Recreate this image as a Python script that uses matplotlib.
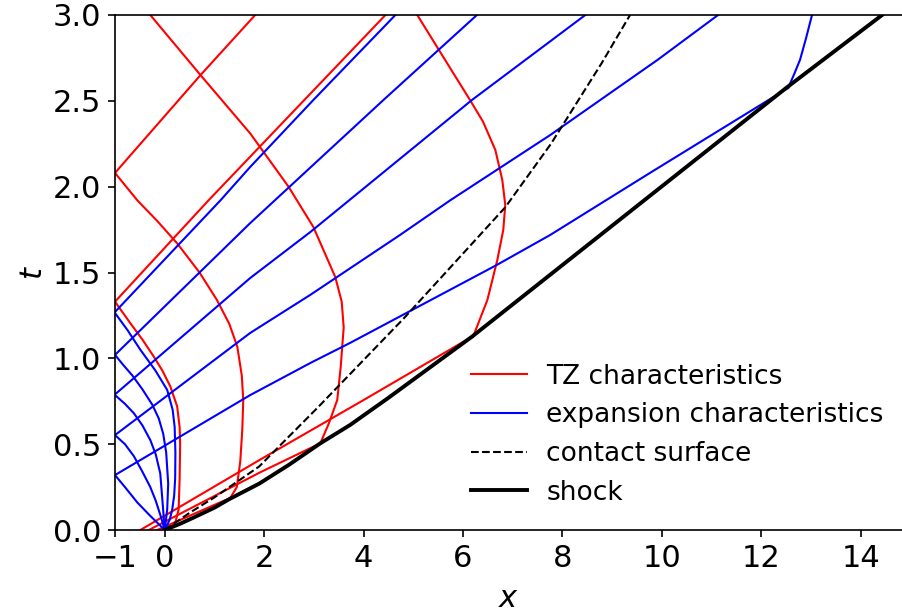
import numpy as np
import matplotlib
matplotlib.use("Agg")
import matplotlib.pyplot as plt

# ---------------- data (x, t) ----------------
# shock and contact surface
shock_x = [0.0, 0.3, 0.6, 1.0, 1.3, 1.9, 2.5, 3.13, 3.73, 4.5, 6.17, 12.5, 14.43]
shock_t = [0.0, 0.035, 0.075, 0.13, 0.18, 0.27, 0.38, 0.505, 0.612, 0.77, 1.124, 2.575, 3.0]
contact_x = [0.0, 0.5, 1.0, 1.9, 3.1, 4.8, 6.85, 7.77, 8.79, 9.36]
contact_t = [0.0, 0.1, 0.19, 0.37, 0.72, 1.23, 1.88, 2.25, 2.72, 3.0]

# expansion fan (origin -> wall x=-1)
fan_a_x = [0.0, -0.3, -0.55, -0.8, -1.0]
fan_a_t = [0.0, 0.085, 0.16, 0.25, 0.32]
fan_b_x = [0.0, -0.08, -0.18, -0.29, -0.45, -0.62, -0.8, -1.0]
fan_b_t = [0.0, 0.08, 0.17, 0.25, 0.34, 0.43, 0.5, 0.553]
fan_c_x = [0.0, -0.04, -0.09, -0.18, -0.29, -0.45, -0.62, -0.8, -1.0]
fan_c_t = [0.0, 0.15, 0.33, 0.44, 0.524, 0.61, 0.68, 0.735, 0.786]
fan_d_x = [0.0, 0.05, 0.07, 0.03, -0.03, -0.12, -0.25, -0.45, -0.65, -0.83, -1.0]
fan_d_t = [0.0, 0.12, 0.27, 0.45, 0.56, 0.65, 0.73, 0.82, 0.9, 0.96, 1.02]
fan_e_x = [0.0, 0.1, 0.15, 0.19, 0.21, 0.215, 0.2, 0.16, 0.05, -0.19, -0.49, -0.75, -1.0]
fan_e_t = [0.0, 0.06, 0.117, 0.2, 0.3, 0.45, 0.6, 0.7, 0.816, 0.93, 1.05, 1.165, 1.264]

# reflected expansion characteristics (wall -> top / shock)
ref1_x = [-1.0, 1.12, 1.72, 2.99, 4.64]
ref1_t = [1.27, 1.92, 2.115, 2.505, 3.0]
ref2_x = [-1.0, 1.72, 4.40, 6.28]
ref2_t = [1.02, 1.788, 2.505, 3.0]
ref3_x = [-1.0, 1.72, 2.93, 6.18, 8.46]
ref3_t = [0.79, 1.468, 1.736, 2.505, 3.0]
ref4_x = [-1.0, 1.72, 2.93, 4.74, 5.74, 7.75, 9.92, 11.13]
ref4_t = [0.553, 1.148, 1.37, 1.72, 1.92, 2.30, 2.74, 3.0]
ref5_x = [-1.0, 1.72, 2.93, 3.73, 6.68, 7.75, 9.76, 12.54]
ref5_t = [0.32, 0.786, 0.973, 1.09, 1.544, 1.718, 2.08, 2.575]
trans_x = [12.54, 12.66, 12.78, 12.9, 13.02]
trans_t = [2.575, 2.655, 2.74, 2.865, 3.0]

# TZ characteristics
tz1_x = [0.1, 0.22, 0.28, 0.3, 0.31, 0.3, 0.25, 0.115, -0.05, -0.22, -0.45, -0.69, -1.0]
tz1_t = [0.01, 0.05, 0.12, 0.3, 0.5, 0.6, 0.72, 0.835, 0.93, 1.01, 1.11, 1.204, 1.33]
tz1r_x = [-1.0, 0.88, 4.44]
tz1r_t = [1.33, 1.92, 3.0]
tz2_x = [1.32, 1.45, 1.52, 1.56, 1.58, 1.55, 1.46, 1.3, 1.05, 0.7, 0.25, -0.15, -0.55, -1.0]
tz2_t = [0.187, 0.25, 0.4, 0.583, 0.757, 0.9, 1.068, 1.2, 1.34, 1.5, 1.67, 1.8, 1.92, 2.08]
tz2r_x = [-1.0, 0.72, 1.82]
tz2r_t = [2.08, 2.65, 3.0]
tz3_x = [3.13, 3.3, 3.47, 3.54, 3.60, 3.56, 3.43, 2.99, 2.49, 1.72, 0.72, -0.29]
tz3_t = [0.505, 0.62, 0.757, 0.95, 1.18, 1.33, 1.474, 1.765, 2.0, 2.31, 2.65, 3.0]
tz4_x = [6.20, 6.49, 6.69, 6.81, 6.85, 6.79, 6.65, 6.40, 6.14, 5.64, 5.08]
tz4_t = [1.124, 1.34, 1.573, 1.748, 1.893, 2.039, 2.214, 2.38, 2.505, 2.738, 3.0]
tzA_x = [-0.49, 1.92, 4.0, 6.17]
tzA_t = [0.0, 0.41, 0.757, 1.124]
tzB_x = [-0.32, 1.92, 3.13]
tzB_t = [0.0, 0.336, 0.505]
tzC_x = [-0.15, 1.32]
tzC_t = [0.0, 0.187]

xticks = [-1, 0, 2, 4, 6, 8, 10, 12, 14]
yticks = [0.0, 0.5, 1.0, 1.5, 2.0, 2.5, 3.0]

# ---------------- plot ----------------
plt.rcParams['font.family'] = ['DejaVu Sans']
plt.rcParams['font.size'] = 19

fig = plt.figure(figsize=(9.03, 6.12), dpi=100)
ax = fig.add_axes([115 / 903, 82 / 612, 788 / 903, 515 / 612])

lw = 1.5
red_sets = [(tz1_x, tz1_t), (tz1r_x, tz1r_t), (tz2_x, tz2_t), (tz2r_x, tz2r_t),
            (tz3_x, tz3_t), (tz4_x, tz4_t), (tzA_x, tzA_t), (tzB_x, tzB_t),
            (tzC_x, tzC_t)]
blue_sets = [(fan_a_x, fan_a_t), (fan_b_x, fan_b_t), (fan_c_x, fan_c_t),
             (fan_d_x, fan_d_t), (fan_e_x, fan_e_t), (ref1_x, ref1_t),
             (ref2_x, ref2_t), (ref3_x, ref3_t), (ref4_x, ref4_t),
             (ref5_x, ref5_t), (trans_x, trans_t)]

for i, (xs, ts) in enumerate(red_sets):
    ax.plot(xs, ts, color='red', lw=lw, solid_joinstyle='round',
            label='TZ characteristics' if i == 0 else None)
for i, (xs, ts) in enumerate(blue_sets):
    ax.plot(xs, ts, color='blue', lw=lw, solid_joinstyle='round',
            label='expansion characteristics' if i == 0 else None)
ax.plot(contact_x, contact_t, color='black', lw=lw, ls='--',
        label='contact surface')
ax.plot(shock_x, shock_t, color='black', lw=2.8, solid_joinstyle='round',
        label='shock')

ax.set_xlim(-1, 14.85)
ax.set_ylim(0, 3)
ax.set_xticks(xticks)
ax.set_yticks(yticks)
ax.set_xlabel('$x$', fontsize=22, labelpad=8)
ax.set_ylabel('$t$', fontsize=22, labelpad=3)
ax.spines['right'].set_visible(False)
for s in ['left', 'top', 'bottom']:
    ax.spines[s].set_linewidth(1.2)
ax.tick_params(width=1.2, length=5, labelsize=22, pad=5)

ax.legend(loc='lower left', bbox_to_anchor=(0.4287, 0.0117), frameon=False,
          fontsize=19, handlelength=2.1, handletextpad=0.75, labelspacing=0.48,
          borderaxespad=0.3)

fig.savefig('out.png', dpi=100)
